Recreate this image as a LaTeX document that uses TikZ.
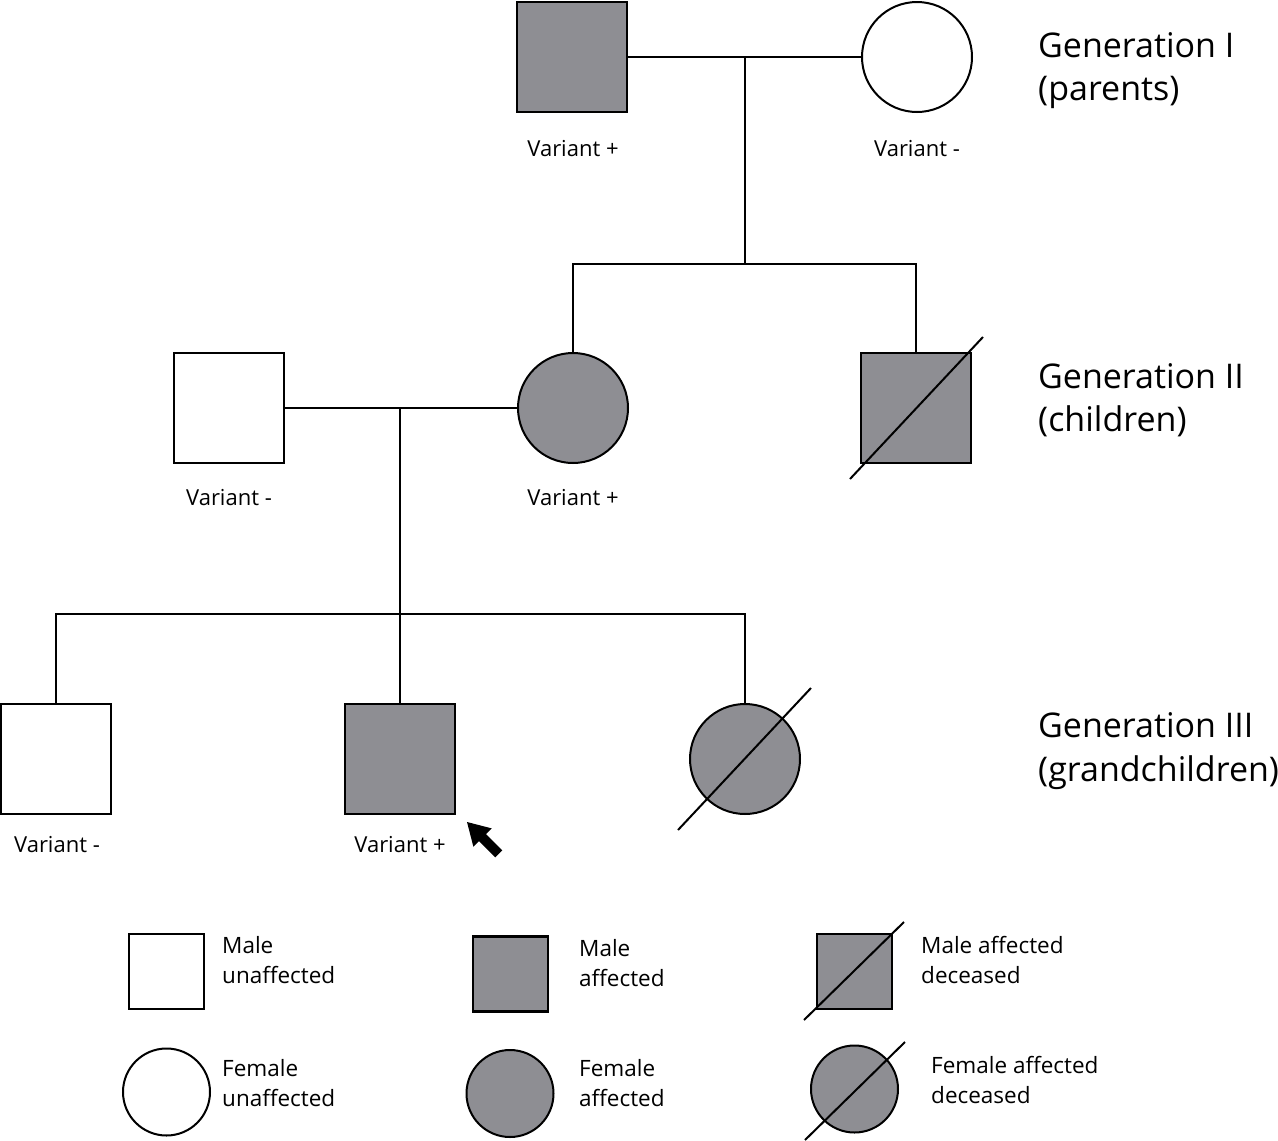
\documentclass[tikz,border=0pt]{standalone}
\usepackage{fontspec}
\setmainfont{Open Sans}
\definecolor{aff}{RGB}{142,142,147}
\begin{document}
\begin{tikzpicture}[x=1pt,y=-1pt,
  male/.style={draw=black,line width=2.5pt,rectangle,minimum size=110pt,inner sep=0pt},
  female/.style={draw=black,line width=2pt,circle,minimum size=110pt,inner sep=0pt},
  lmale/.style={draw=black,line width=2.5pt,rectangle,minimum size=75pt,inner sep=0pt},
  lfemale/.style={draw=black,line width=2pt,circle,minimum size=87pt,inner sep=0pt},
  affected/.style={fill=aff},
  link/.style={line width=1.5pt},
  slash/.style={line width=2pt},
  lab/.style={font=\fontsize{22}{26}\selectfont,anchor=base,inner sep=0pt},
  gen/.style={font=\fontsize{34}{40}\selectfont,anchor=base west,inner sep=0pt},
  leg/.style={font=\fontsize{22.5}{30}\selectfont,anchor=base west,inner sep=0pt},
]
\useasboundingbox (0,0) rectangle (1278,1141);

% Generation I
\node[male,affected] (g1m) at (572,57) {};
\node[female] (g1f) at (917,57) {};
\coordinate (g1j) at (745,57);
\coordinate (g1s) at (745,264);
\coordinate (s1l) at (573,264);
\coordinate (s1r) at (916,264);
\node[lab] (t1m) at (573,156) {Variant +};
\node[lab] (t1f) at (917,156) {Variant -};

% Generation II
\node[male] (g2m) at (229,408) {};
\node[female,affected] (g2f) at (573,408) {};
\node[male,affected] (g2d) at (916,408) {};
\coordinate (g2j) at (400,408);
\coordinate (g2s) at (400,614);
\coordinate (s2l) at (56,614);
\coordinate (s2r) at (745,614);
\node[lab] (t2m) at (229,505) {Variant -};
\node[lab] (t2f) at (573,505) {Variant +};

% Generation III
\node[male] (g3a) at (56,759) {};
\node[male,affected] (g3b) at (400,759) {};
\node[female,affected] (g3c) at (745,759) {};
\node[lab] (t3a) at (57,852) {Variant -};
\node[lab] (t3b) at (400,852) {Variant +};

% connectors
\draw[link] (g1m.east) -- (g1f.west);
\draw[link] (g1j) -- (g1s);
\draw[link] (g2f.north) -- (s1l) -- (s1r) -- (g2d.north);
\draw[link] (g2m.east) -- (g2f.west);
\draw[link] (g2j) -- (g2s);
\draw[link] (g3a.north) -- (s2l) -- (s2r) -- (g3c.north);
\draw[link] (g3b.north) -- (g2s);

% deceased slashes
\draw[slash] ([shift={(-66,71)}]g2d.center) -- ([shift={(67,-71)}]g2d.center);
\draw[slash] ([shift={(-67,71)}]g3c.center) -- ([shift={(66,-71)}]g3c.center);

% proband arrow
\fill (467,822) -- (491.8,828.4) -- (486.1,834.1) -- (502.3,850.3) -- (495.3,857.3)
      -- (479.1,841.1) -- (473.4,846.8) -- cycle;

% generation labels
\node[gen] (gen1a) at (1038,57) {Generation I};
\node[gen] (gen1b) at (1038,100) {(parents)};
\node[gen] (gen2a) at (1038,388) {Generation II};
\node[gen] (gen2b) at (1038,431) {(children)};
\node[gen] (gen3a) at (1038,737) {Generation III};
\node[gen] (gen3b) at (1038,781) {(grandchildren)};

% legend
\node[lmale] (l1) at (166.5,971.5) {};
\node[lmale,affected] (l2) at (510.5,974) {};
\node[lmale,affected] (l3) at (854.5,971.5) {};
\node[lfemale] (l4) at (166.5,1092) {};
\node[lfemale,affected] (l5) at (510,1093.5) {};
\node[lfemale,affected] (l6) at (854.5,1089) {};
\draw[slash] ([shift={(-50.5,48.5)}]l3.center) -- ([shift={(49.5,-49.5)}]l3.center);
\draw[slash] ([shift={(-49.5,51)}]l6.center) -- ([shift={(50.5,-47)}]l6.center);

\node[leg] (x1a) at (222,953) {Male};
\node[leg] (x1b) at (222,983) {unaffected};
\node[leg] (x2a) at (579,956) {Male};
\node[leg] (x2b) at (579,986) {affected};
\node[leg] (x3a) at (921,953) {Male affected};
\node[leg] (x3b) at (921,983) {deceased};
\node[leg] (x4a) at (222,1076) {Female};
\node[leg] (x4b) at (222,1106) {unaffected};
\node[leg] (x5a) at (579,1076) {Female};
\node[leg] (x5b) at (579,1106) {affected};
\node[leg] (x6a) at (931,1073) {Female affected};
\node[leg] (x6b) at (931,1103) {deceased};
\end{tikzpicture}
\end{document}
